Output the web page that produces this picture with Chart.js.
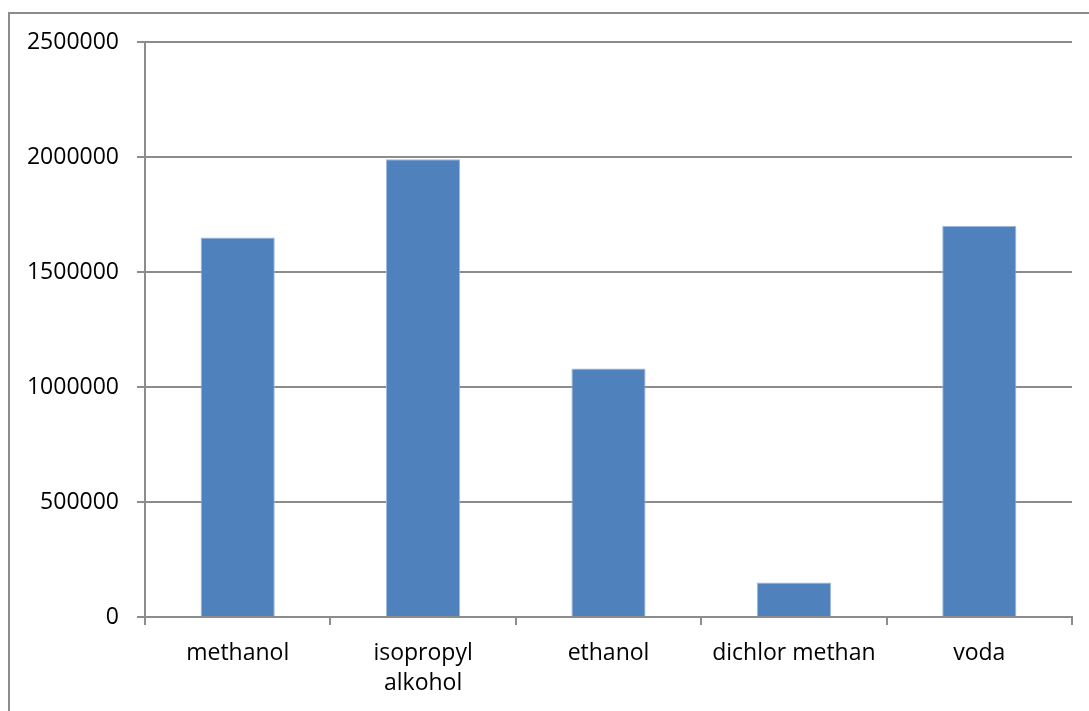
<!DOCTYPE html>
<html lang="cs">
<head>
  <meta charset="UTF-8">
  <title>Graf</title>
  <script src="https://cdn.jsdelivr.net/npm/chart.js"></script>
  <style>
    html, body { margin: 0; padding: 0; overflow: hidden; background: #fff; }
    #wrap { position: relative; width: 1089px; height: 711px; }
    #frame { position: absolute; left: 8px; top: 12px; width: 1200px; height: 800px; border: 2px solid #8c8c8c; box-sizing: border-box; }
    canvas { position: absolute; left: 0; top: 0; }
  </style>
</head>
<body>
  <div id="wrap">
    <div id="frame"></div>
    <canvas id="myChart" width="1089" height="711"></canvas>
  </div>
  <script>
  const labels = ["methanol", ["isopropyl", "alkohol"], "ethanol", "dichlor methan", "voda"]
  const values = [1650000, 1990000, 1080000, 150000, 1700000]
  const yTicks = [0, 500000, 1000000, 1500000, 2000000, 2500000]

  const data = {
    labels: labels,
    datasets: [{
      data: values,
      backgroundColor: "#4f81bd",
      borderColor: "#9db7d9",
      borderWidth: 1,
      barPercentage: 0.4,
      categoryPercentage: 1
    }]
  }

  const font = { family: "'Open Sans', sans-serif", size: 23 }

  const config = {
    type: "bar",
    data,
    options: {
      responsive: false,
      animation: false,
      layout: { padding: { left: 0, top: 42, right: 17, bottom: 0 } },
      plugins: { legend: { display: false }, tooltip: { enabled: false } },
      scales: {
        x: {
          grid: { drawOnChartArea: false, tickLength: 8, color: "#8c8c8c", lineWidth: 2 },
          border: { color: "#8c8c8c", width: 2 },
          ticks: { color: "#000", font: { ...font, lineHeight: 1.3 }, padding: 14, maxRotation: 0 },
          afterFit: (scale) => { scale.height = 94 }
        },
        y: {
          min: 0,
          max: 2500000,
          afterBuildTicks: (scale) => { scale.ticks = yTicks.map(v => ({ value: v })) },
          grid: { tickLength: 8, color: "#8c8c8c", lineWidth: 2 },
          border: { color: "#8c8c8c", width: 2 },
          ticks: { color: "#000", font: font, padding: 18, callback: (v) => String(v) },
          afterFit: (scale) => { scale.width = 145 }
        }
      }
    }
  }

  var myChart = new Chart(document.getElementById("myChart"), config)
  </script>
</body>
</html>
